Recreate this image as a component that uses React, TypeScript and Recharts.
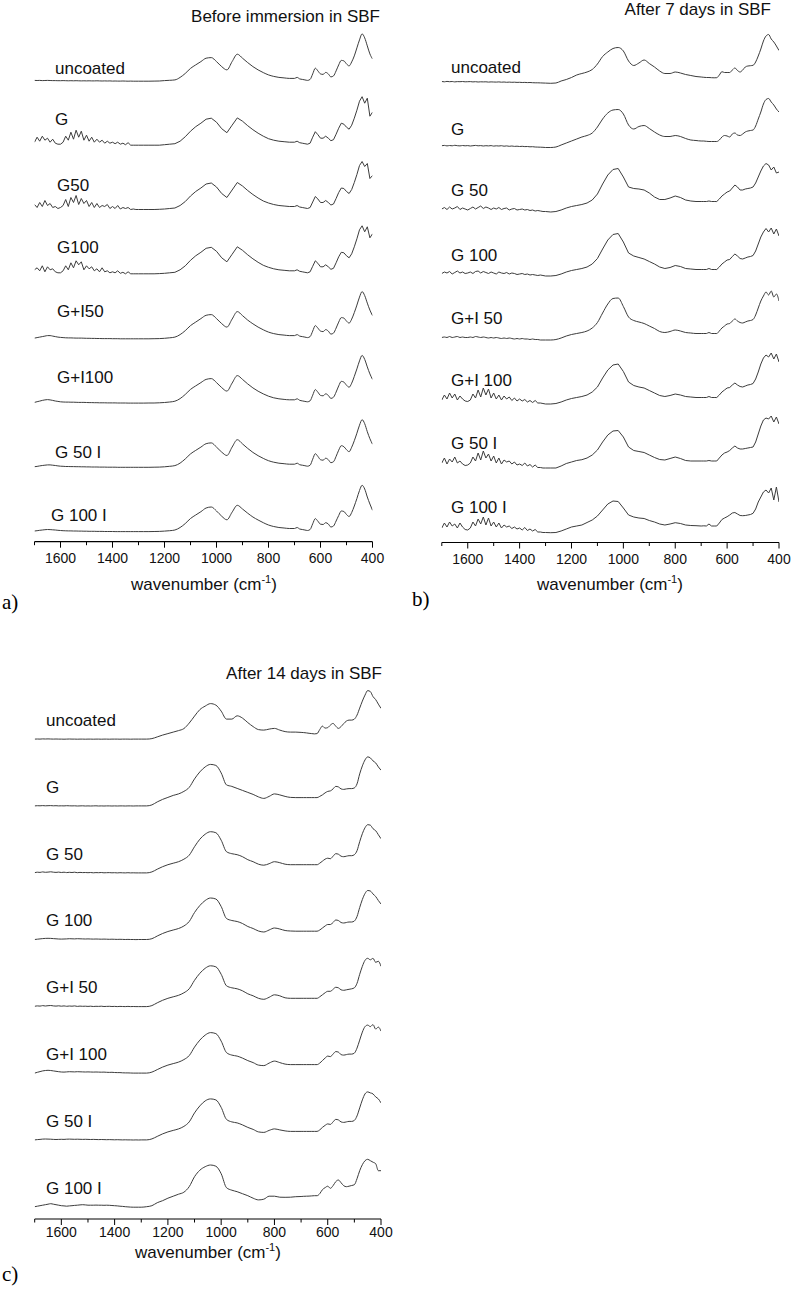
import React from 'react';
import { LineChart, Line, XAxis, YAxis } from 'recharts';

// wavenumber grid (cm-1): fine steps where the spectra are noisy or sharp
const WAVENUMBERS = [
  1700, 1690, 1680, 1670, 1660, 1650, 1640, 1630, 1620, 1610, 1600, 1590, 1580, 1570, 1560, 1550, 1540, 1530, 1520, 1510,
  1500, 1490, 1480, 1470, 1460, 1450, 1440, 1430, 1420, 1410, 1400, 1390, 1380, 1370, 1360, 1350, 1340, 1330, 1320, 1310, 1300,
  1280, 1260, 1240, 1220, 1200, 1180, 1160, 1140, 1120, 1100, 1080, 1060, 1040, 1020, 1000, 980, 960, 940, 920, 900,
  880, 860, 840, 820, 800, 780, 760, 740, 720,
  700, 690, 680, 670, 660, 650, 640, 630, 620, 610, 600, 590, 580, 570, 560, 550, 540, 530, 520, 510,
  500, 490, 480, 470, 460, 450, 440, 430, 420, 410, 400,
];
const TICKS = [1700, 1600, 1500, 1400, 1300, 1200, 1100, 1000, 900, 800, 700, 600, 500, 400];

const SAMPLES_A = ['uncoated', 'G', 'G50', 'G100', 'G+I50', 'G+I100', 'G 50 I', 'G 100 I'];
const SAMPLES_BC = ['uncoated', 'G', 'G 50', 'G 100', 'G+I 50', 'G+I 100', 'G 50 I', 'G 100 I'];

// absorbance (a.u.) - before immersion
const A_UNCOATED = [
  0.5, 0.4, 0.5, 0.3, 0.4, 0.5, 0.4, 0.3, 0.3, 0.2, 0.2, 0.3, 0.2, 0.1, 0.2, 0.1, 0.2, 0.1, 0, 0.1, 0, 0.1, 0, 0, 0.1, 0, -0.1, 0, -0.1, 0, -0.2, -0.1, -0.2, -0.2, -0.1, -0.2, -0.3, -0.2, -0.3, -0.3, -0.3,
  -0.3, -0.3, -0.2, -0.1, 0.3, 0.6, 1, 3.5, 7.5, 12.5, 16, 19.3, 22.7, 23.3, 19.3, 14.3, 11, 19.3, 26.7, 22.7, 18.3, 14.3, 11, 8.3, 6, 4.5, 3.5, 3, 2.5,
  2.5, 3.5, 2, 1.5, 1, 0.5, 1.5, 7, 12.7, 10, 7, 6.5, 8.5, 7, 4, 5, 10, 16, 20.5, 20, 17, 15, 19, 25, 33, 41, 47, 43, 35, 27, 22,
];
const A_G = [
  3, 8, 4, 9, 5, 7, 3, 6, 2, 1, 1, 3, 9, 5, 13, 6, 15, 8, 14, 5, 10, 4, 8, 3, 6, 3, 5, 2, 4, 2, 3, 1.5, 3, 1, 2, 0.5, 2.5, 0, 0, 0, 0,
  0, 0, 0, 0, 0.5, 1, 1.5, 4, 8.5, 14, 18.5, 22, 26, 27, 23, 16.5, 12.5, 20, 27.3, 24, 19.5, 15.5, 12, 9, 6.5, 5, 4, 3.5, 3,
  3, 4, 2.5, 2, 1.5, 1, 2, 8, 13.5, 10.5, 7, 7, 9, 7, 4.5, 5.5, 11, 17, 22, 21, 18, 16, 20, 27, 35, 44, 48.5, 42, 47, 29, 33,
];
const A_G50 = [
  5, 2, 7, 3, 9, 4, 6, 2, 3, 1, 2, 4, 10, 3, 12, 7, 14, 5, 11, 6, 9, 3, 7, 2, 6, 2, 4, 3, 5, 1, 3, 1, 4, 0.5, 2, 1, 2, 0, 0.5, 0, 0,
  0, 0, 0, 0.2, 0.5, 1, 1.5, 4, 8, 13.5, 18, 21.5, 25.5, 26.5, 22.5, 16, 12, 19.5, 27, 23.5, 19, 15, 11.5, 8.5, 6.5, 5, 4, 3.5, 3,
  3, 4, 2.5, 2, 1.5, 1, 2, 7.5, 13, 10.5, 7, 7, 9, 7, 4.5, 5.5, 11, 17, 21.5, 21, 18, 16, 20, 27, 35, 44, 48, 43, 46, 31, 34,
];
const A_G100 = [
  4, 6, 3, 8, 2, 7, 4, 5, 2, 1, 1, 3, 8, 4, 11, 6, 13, 9, 12, 4, 8, 5, 7, 3, 5, 2, 6, 2, 3, 1, 2, 1, 3, 0.5, 1.5, 0, 2, 0, 0, 0, 0,
  0, 0, 0, 0.2, 0.5, 1, 1.5, 4, 8, 13.5, 18, 21.5, 25.5, 26.5, 22.5, 16, 12, 19.5, 27, 23.5, 19, 15, 11.5, 8.5, 6.5, 5, 4, 3.5, 3,
  3, 4, 2.5, 2, 1.5, 1, 2, 7.5, 13, 10.5, 7, 7, 9, 7, 4.5, 5.5, 11, 17, 21.5, 21, 18, 16, 20, 27, 35, 44, 48, 42, 47, 36, 40,
];
const A_GI50 = [
  0, 0.5, 1, 1.5, 2, 2.5, 2.5, 2, 1.5, 1, 0.7, 0.5, 0.3, 0.2, 0.2, 0.1, 0, 0, 0, -0.1, -0.2, -0.2, -0.3, -0.3, -0.4, -0.4, -0.5, -0.5, -0.5, -0.5, -0.6, -0.6, -0.6, -0.7, -0.7, -0.7, -0.7, -0.7, -0.7, -0.7, -0.7,
  -0.7, -0.7, -0.6, -0.5, -0.2, 0.3, 1, 3.5, 7.5, 12.5, 16, 19.5, 22.8, 23.5, 19.5, 14.5, 11, 19, 26.5, 22.5, 18, 14.3, 11, 8.3, 6, 4.5, 3.5, 3, 2.5,
  2.5, 3.5, 2, 1.5, 1, 0.5, 1.5, 7, 12.5, 10, 7, 6.5, 8.5, 7, 4, 5, 10, 16, 20.5, 20, 17, 15, 19, 25.5, 33, 41, 46.5, 42.5, 35, 28, 22.5,
];
const A_GI100 = [
  0, 0.7, 1.3, 2, 2.5, 2.8, 2.5, 2, 1.4, 1, 0.6, 0.4, 0.3, 0.3, 0.2, 0.2, 0.1, 0, 0, 0, -0.1, -0.2, -0.2, -0.3, -0.3, -0.4, -0.4, -0.4, -0.5, -0.5, -0.5, -0.5, -0.6, -0.6, -0.6, -0.6, -0.7, -0.7, -0.7, -0.7, -0.7,
  -0.7, -0.6, -0.6, -0.4, -0.1, 0.4, 1.2, 3.8, 8, 13, 16.5, 19.8, 23, 23.8, 19.8, 14.8, 11.3, 19.3, 26.8, 23, 18.5, 14.5, 11.2, 8.5, 6.2, 4.6, 3.6, 3, 2.6,
  2.6, 3.6, 2.1, 1.5, 1, 0.6, 1.6, 7.2, 12.8, 10.2, 7, 6.6, 8.6, 7, 4, 5.2, 10.3, 16.5, 21, 20.3, 17.2, 15.2, 19.2, 26, 33.5, 41.5, 47, 43, 35.5, 28.5, 23,
];
const A_G50I = [
  0, 0.3, 0.8, 1.2, 1.5, 1.8, 1.8, 1.5, 1.2, 0.8, 0.5, 0.4, 0.2, 0.2, 0.1, 0.1, 0, 0, -0.1, -0.1, -0.2, -0.2, -0.3, -0.3, -0.3, -0.4, -0.4, -0.4, -0.5, -0.5, -0.5, -0.5, -0.6, -0.6, -0.6, -0.6, -0.6, -0.6, -0.6, -0.6, -0.6,
  -0.6, -0.6, -0.5, -0.4, -0.1, 0.4, 1.1, 3.6, 7.8, 12.8, 16.3, 19.6, 23, 23.8, 19.6, 14.6, 11.2, 19.6, 27, 22.8, 18.3, 14.3, 11, 8.3, 6, 4.5, 3.5, 3, 2.5,
  2.5, 3.5, 2, 1.5, 1, 0.5, 1.5, 7.5, 13, 10.3, 7, 6.5, 8.5, 7, 4, 5, 10.3, 16.5, 21, 20, 17, 15, 19.5, 26, 33.5, 41.5, 47, 43, 35, 28, 22.5,
];
const A_G100I = [
  0, 0.3, 0.7, 1, 1.3, 1.5, 1.4, 1.2, 1, 0.7, 0.5, 0.3, 0.2, 0.1, 0.1, 0, 0, -0.1, -0.1, -0.2, -0.2, -0.3, -0.3, -0.3, -0.4, -0.4, -0.4, -0.5, -0.5, -0.5, -0.5, -0.6, -0.6, -0.6, -0.6, -0.6, -0.6, -0.6, -0.6, -0.6, -0.6,
  -0.6, -0.6, -0.5, -0.4, -0.1, 0.3, 1, 3.5, 7.5, 12.5, 16, 19.3, 23, 24, 20, 14.8, 11.2, 18.8, 25.7, 22, 17.8, 14, 11, 8.3, 6, 4.5, 3.5, 3, 2.5,
  2.5, 3.5, 2, 1.5, 1, 0.5, 1.5, 7.2, 12.4, 9.8, 6.8, 6.5, 8.3, 7, 4, 5, 10, 15.5, 20, 19.5, 16.5, 14.5, 18.5, 25, 32.5, 40.5, 45.7, 42, 34, 27, 20.7,
];

// after 7 days in SBF
const B_UNCOATED = [
  0.5, 0.2, 0.6, 0.3, 0.5, 0.1, 0.4, 0.3, 0.5, 0.2, 0.3, 0.4, 0.1, 0.3, 0, 0.2, 0.1, 0.2, -0.1, 0.1, 0, -0.1, 0.1, -0.2, 0, -0.3, -0.1, -0.3, -0.2, -0.4, -0.3, -0.5, -0.4, -0.6, -0.5, -0.7, -0.8, -0.8, -0.9, -1, -1.1,
  -1.3, -1, 1, 2.5, 4.5, 7, 8.5, 10, 12.5, 18, 25.5, 30, 33.5, 34.5, 31, 21, 16.5, 19, 22, 18.5, 15, 11, 8.5, 8.5, 10, 9, 7.5, 6.5, 5.5,
  5, 4.7, 4.5, 4.5, 4.3, 4.2, 4.3, 7, 10.3, 9.5, 9.5, 9.5, 12, 14, 11.5, 10, 12, 15, 16, 16.3, 16.7, 20, 26, 33, 41, 46, 47.5, 43, 40, 36, 31.5,
];
const B_G = [
  0.3, 0.6, 0.1, 0.5, 0.2, 0.7, 0.3, 0.1, 0.5, 0.2, 0.4, 0, 0.3, 0.6, 0.2, 0.4, 0, 0.3, 0.1, 0.4, -0.1, 0.2, 0, 0.3, -0.2, 0.1, -0.3, 0, -0.4, -0.2, -0.5, -0.3, -0.6, -0.5, -0.8, -0.7, -1, -1.1, -1.2, -1.3, -1.5,
  -1.5, -1, 1, 3, 5, 7, 9, 10.5, 13, 19, 27, 33, 36, 36.5, 32, 21, 17, 19.5, 20.5, 17.5, 14, 11, 9.5, 9.5, 10.5, 9.5, 7.5, 6, 5.5,
  5, 5, 4.7, 4.5, 4.5, 4.5, 4.5, 6, 9, 10.5, 10, 9, 12, 13, 11, 10.5, 12, 14, 15, 15.5, 16, 20, 27, 34, 42, 46.5, 47.5, 44, 41, 37, 34,
];
const B_G50 = [
  1, 2.5, 0.5, 3, 1, 2, 3.5, 0.5, 2, 1, 0, 1.5, 3, 1, 2.5, 4, 1.5, 3, 2, 0.5, 2, 1, 2.5, 0.5, 1.5, 2, 0, 1, 1.5, 0, 0.5, 1, 0, 0.5, -0.5, 0, -1, -0.5, -1, -1.5, -1.5,
  -2, -1.5, 0, 2, 3.5, 4.5, 5.5, 7, 10, 16, 26, 35, 40.5, 41.5, 33, 23, 21.5, 21, 20, 17, 13, 10.5, 10.5, 12, 14, 12.5, 10, 9, 8.5,
  8.5, 8.5, 8.5, 9, 8.5, 8.5, 8.5, 11, 14, 16, 18, 19, 22, 25, 23, 20, 20, 21, 21.5, 22, 23, 27, 33, 39, 44, 46.5, 45, 40, 43, 37, 38,
];
const B_G100 = [
  0.5, 2, 1, 2.5, 0, 1.5, 3, 1, 2, 0.5, 1, 2, 0.5, 2.5, 3, 1, 2.5, 1.5, 0.5, 2, 1, 0, 2, 1, 0.5, 1.5, 0, 1, 0.5, -0.5, 0, 0.5, -0.5, 0, -1, -0.5, -1, -1.5, -1, -1.5, -2,
  -2, -1.5, 0, 2, 3.5, 4.5, 5.5, 7, 10, 15.5, 25, 34, 39.5, 40.5, 32, 21, 18, 16.5, 15, 12.5, 10, 7, 5.5, 6.5, 8.5, 7.5, 5.5, 5, 4.5,
  4.5, 4.5, 4.5, 5.5, 4.5, 4.5, 4.5, 7, 10, 12, 14, 14.5, 17.5, 20, 18, 15.5, 15, 16, 17, 17.5, 18.5, 23, 30, 37, 42, 45.5, 42, 46, 40, 45, 38,
];
const B_GI50 = [
  0.5, 1, 0.5, 1.5, 0.5, 1, 1.5, 0.5, 1, 0.5, 0.5, 1, 0.5, 1.5, 1, 0.5, 1, 0.5, 0, 0.5, 0, 0.5, 0, -0.5, 0, -0.5, 0, -0.5, -1, -0.5, -1, -0.5, -1, -1, -1.5, -1, -1.5, -1.5, -2, -2, -2,
  -2, -1.5, 0, 2, 3.5, 4.5, 5.5, 7, 10, 15.5, 25, 34, 39.5, 40, 31.5, 21, 17.5, 16, 14.5, 12, 9.5, 6.5, 5.5, 6.5, 8, 7, 5.5, 5, 4.5,
  4.5, 4.5, 4.5, 5.5, 4.5, 4.5, 4.5, 7, 10, 12, 14, 14.5, 17, 19, 17, 15.5, 15, 16, 17, 17.5, 18.5, 23, 30, 37, 42, 46, 43, 47, 41, 44, 37,
];
const B_GI100 = [
  2, 7, 3, 9, 4, 8, 2, 6, 3, 1, 0.5, 2, 8, 4, 12, 5, 14, 7, 13, 4, 9, 3, 7, 2, 6, 3, 5, 1.5, 4, 1, 3, 1, 2.5, 0, 1.5, -0.5, 1.5, -1, -1, -1.5, -2,
  -2, -1.5, 0, 2, 3.5, 4.5, 5.5, 7, 10, 15, 24, 32, 37, 38, 30.5, 20, 16.5, 15, 14, 11.5, 9, 6.5, 5.5, 6.5, 8, 7, 5.5, 5, 4.5,
  4.5, 4.5, 4.5, 5.5, 4.5, 4.5, 4.5, 7, 10, 12, 14, 14.5, 17, 19, 17, 15.5, 15, 16, 17, 17.5, 18.5, 23, 30, 38, 44, 47, 45, 49, 43, 48, 40,
];
const B_G50I = [
  3, 8, 2, 7, 4, 9, 3, 5, 2, 0.5, 1, 3, 9, 5, 13, 6, 15, 8, 12, 5, 10, 3, 8, 2, 6, 4, 5, 2, 4, 1, 2, 0.5, 3, 0, 1.5, -1, 1, -1.5, -1.5, -2, -2,
  -2, -2, 0, 2.5, 4, 5.5, 6.3, 8, 11, 16, 24, 31, 35, 35.5, 29, 19, 15.5, 14.5, 13.5, 11, 8.5, 6.5, 6, 7.5, 9, 7.5, 5.5, 5, 5,
  5, 5, 5, 5.5, 5, 5, 5, 8, 11, 13, 14, 15.5, 18, 20, 18, 17, 17, 17.5, 18, 18.5, 19, 24, 32, 40, 46, 48, 47, 50, 44, 49, 42,
];
const B_G100I = [
  2, 7, 3, 8, 4, 6, 2, 7, 3, 0.5, 0, 2, 8, 4, 11, 6, 13, 5, 12, 4, 8, 3, 7, 2, 5, 3, 4, 1.5, 3, 1, 2, 0, 2.5, -0.5, 1, -1, 0.5, -2, -2, -2.5, -2.5,
  -2.7, -2.5, -1, 1, 3, 4, 5, 7.5, 10, 14, 20, 26, 29, 28.5, 22, 15, 13, 12, 11.5, 9.5, 8, 6, 5, 6, 7.3, 6.5, 5, 4.5, 4.3,
  4, 4.2, 4, 6, 4, 4, 4, 7, 10.5, 12, 13.3, 15, 17, 17.5, 16, 14.5, 14.3, 14.5, 15, 15.5, 16.7, 21, 28, 33, 38, 40, 37, 42, 30, 43, 28,
];

// after 14 days in SBF
const C_UNCOATED = [
  0, 0.1, 0, 0.2, 0.1, 0.2, 0.1, 0, 0.1, 0, 0, -0.1, 0, 0.1, 0, 0, -0.1, 0, 0, -0.1, 0, 0, -0.1, 0, 0, -0.1, 0, 0, -0.1, 0, 0, 0, -0.1, 0, 0, 0, -0.1, 0, 0, 0, 0,
  0, 0.5, 2.2, 4, 5.5, 7, 8.5, 10.5, 16, 23, 29.5, 33, 35.5, 34, 28, 20, 20, 23.3, 21, 16.5, 12.5, 9.5, 9, 10, 10.7, 9, 7.5, 7, 7,
  6.7, 6.5, 6.2, 5.8, 5.5, 5.2, 5.5, 9.5, 13, 11, 11.5, 14, 15.7, 13, 10.7, 12.5, 15.5, 18, 19, 19, 20, 24, 31, 38, 44, 48.5, 47.5, 42.5, 39.5, 35, 30.7,
];
const C_G = [
  0, 0.2, 0.1, 0.3, 0.1, 0.2, 0.3, 0.1, 0.2, 0, 0.1, 0, 0.2, 0.1, 0, 0.1, -0.1, 0, 0.1, -0.1, 0, -0.1, 0, 0.1, -0.1, 0, -0.1, 0, 0, -0.1, 0, -0.1, 0, 0, -0.1, 0, 0, -0.1, 0, 0, 0,
  0, 1, 4, 6.5, 8.5, 10.5, 12, 14.5, 18.5, 27, 34, 39, 41.5, 40.5, 33, 21, 19.5, 17.5, 15.5, 13.5, 11.5, 9, 7.5, 9.5, 12, 11, 9.5, 8.5, 8.3,
  8.3, 8.3, 8.3, 8.3, 8.3, 8.3, 8.3, 9.5, 11, 13, 14.5, 15, 17, 19.5, 19, 17, 16.5, 17, 17.3, 17.3, 18, 22, 32, 40, 46, 49, 48, 45, 43, 39, 35.7,
];
const C_G50 = [
  0, 0.5, 0.3, 0.8, 0.4, 0.6, 0.9, 0.5, 0.3, 0.6, 0.2, 0.5, 0.1, 0.4, 0.2, 0.5, 0, 0.3, 0.1, 0.2, 0, 0.2, -0.1, 0.1, 0, 0.2, -0.1, 0, 0.1, -0.1, 0, -0.2, 0, -0.1, -0.2, 0, -0.2, -0.1, -0.2, -0.2, -0.2,
  -0.2, 0.8, 3.5, 6, 8, 9.5, 11, 13.5, 17.5, 26, 33.5, 38.5, 41, 40, 32.5, 21, 19, 18, 16, 13, 11, 8.5, 7.5, 9, 11, 10, 8.5, 8, 8,
  8, 8, 8, 8, 8, 8, 8, 9.5, 11.5, 13.5, 14.5, 14, 16.5, 19, 18.5, 16.5, 16, 16.5, 17, 17, 18, 22, 31, 39, 45, 48, 47.5, 44, 42, 38, 34,
];
const C_G100 = [
  0, 0.3, 0.6, 0.9, 1.1, 1.2, 1.1, 0.9, 0.7, 0.5, 0.4, 0.5, 0.6, 0.8, 0.7, 0.6, 0.8, 0.7, 0.6, 0.5, 0.6, 0.5, 0.4, 0.5, 0.4, 0.3, 0.4, 0.3, 0.2, 0.3, 0.2, 0.1, 0.2, 0.1, 0, 0.1, 0, 0, -0.1, 0, 0,
  0, 0.8, 3.5, 6, 8, 9.5, 11, 13.5, 18, 27, 34, 39, 41.5, 40.5, 33, 21, 19, 18, 16, 13, 11, 8.5, 7.5, 9.5, 11.5, 10.5, 9, 8.5, 8.3,
  8.3, 8.3, 8.3, 8.3, 8.3, 8.3, 8.3, 9.5, 11.5, 13.5, 15, 15, 17, 19.5, 19, 17, 16.5, 17, 17.5, 17.5, 18.5, 23, 32, 40, 46, 49, 48.5, 45.5, 43, 39, 35.5,
];
const C_GI50 = [
  0, 0.4, 0.2, 0.7, 0.3, 0.6, 0.8, 0.4, 0.2, 0.5, 0.1, 0.4, 0, 0.3, 0.1, 0.4, -0.1, 0.2, 0, 0.1, -0.1, 0.1, -0.2, 0, -0.1, 0.1, -0.2, -0.1, 0, -0.2, -0.1, -0.3, -0.1, -0.2, -0.3, -0.1, -0.3, -0.2, -0.3, -0.3, -0.3,
  -0.3, 0.7, 3.5, 6, 8, 9.5, 11, 13.5, 17.5, 26, 33, 38, 40.5, 39.5, 32, 20.5, 18.5, 17.5, 15.5, 12.5, 10.5, 8, 7, 9, 11.5, 10.5, 8.5, 8, 8,
  8, 8, 8, 8, 8, 8, 8, 9.5, 11.5, 13.5, 15, 15, 17, 19, 18.5, 16.5, 16, 16.5, 17, 17.5, 18.5, 23, 32, 40, 46, 48, 46.5, 48, 44, 45, 40,
];
const C_GI100 = [
  0, 0.8, 1.5, 2.2, 2.6, 2.8, 2.6, 2.2, 1.8, 1.4, 1.1, 1, 1.2, 1.4, 1.3, 1.2, 1.4, 1.3, 1.2, 1.1, 1.2, 1.1, 1, 1.1, 1, 0.9, 1, 0.8, 0.7, 0.8, 0.6, 0.5, 0.5, 0.3, 0.2, 0.2, 0.1, 0, 0, 0, 0,
  0, 1, 3.5, 6, 8, 9.5, 11, 13.5, 17.5, 26, 33, 38, 40.5, 39.5, 32, 20.5, 18, 17, 15, 12.5, 10.5, 8, 7.5, 10, 12, 10.5, 9, 8.5, 8.5,
  8.5, 8.5, 8.5, 8.5, 8.5, 8.5, 8.5, 10, 12.5, 15, 17, 16.5, 19, 21.5, 21, 18.5, 18, 18.5, 19, 19, 20, 25, 33, 41, 46.5, 48, 46.5, 48.5, 44, 46, 42,
];
const C_G50I = [
  0, 0.3, 0.5, 0.8, 0.9, 0.8, 0.7, 0.5, 0.4, 0.5, 0.6, 0.5, 0.7, 0.8, 0.7, 0.6, 0.7, 0.6, 0.5, 0.6, 0.5, 0.4, 0.5, 0.4, 0.3, 0.4, 0.3, 0.2, 0.3, 0.2, 0.1, 0.2, 0.1, 0, 0.1, 0, 0, -0.1, 0, -0.1, 0,
  0, 1, 3.5, 6, 8, 9.5, 11, 13.5, 18, 27, 34, 39, 41, 40, 32.5, 20.5, 18, 17, 15, 12.5, 10.5, 8, 7.5, 9.5, 11, 10, 9, 8.5, 8.5,
  8.5, 8.5, 8.5, 8.5, 8.5, 8.5, 8.5, 10, 12.5, 14.5, 16, 15.5, 18, 20.5, 20, 18, 17.5, 18, 18.5, 18.5, 19.5, 24, 32, 40, 46, 48, 47, 46, 43, 41, 37,
];
const C_G100I = [
  0, 0.5, 1, 1.5, 2, 2.5, 3, 2.5, 2, 1.5, 1, 0.8, 0.5, 0.8, 1, 1.3, 1.5, 1.8, 2, 1.8, 1.5, 1.5, 1.5, 1.6, 1.5, 1.5, 1.4, 1.5, 1.4, 1.2, 1, 0.8, 0.5, 0.3, 0, -0.2, -0.4, -0.5, -0.5, -0.5, -0.5,
  0, 1, 4, 6, 8.5, 10.5, 12.5, 14.5, 20, 30, 36.5, 40, 41.7, 40.5, 33, 19, 16.5, 15, 13, 11, 8.5, 6.8, 7.5, 10.5, 10.5, 9.5, 9.4, 9.5, 10,
  10.2, 10.4, 10.5, 10.6, 10.8, 11, 11, 13, 17, 19, 20.5, 18.4, 21, 25, 26.7, 24, 21, 20, 20.5, 21.2, 22, 28, 36, 42, 46, 47.4, 46, 44.5, 43, 36, 36,
];

const SANS = '"Liberation Sans", Arial, Helvetica, sans-serif';
const SERIF = '"Liberation Serif", "Times New Roman", serif';
const LINE = '#3c3c3c';

// panel geometry (px): plot box, stacking of the traces, which traces are drawn with straight segments
const PANELS = [
  {
    key: 'a', left: 0, top: 0, width: 400, height: 600, axisY: 541.7, plotLeft: 34.5, plotRight: 372.5,
    base: 10.7, step: 64.3, tickDy: 21, jagged: [1, 2, 3],
    spectra: [A_UNCOATED, A_G, A_G50, A_G100, A_GI50, A_GI100, A_G50I, A_G100I],
  },
  {
    key: 'b', left: 400, top: 0, width: 392, height: 600, axisY: 542.5, plotLeft: 41.8, plotRight: 379,
    base: 12.5, step: 64, tickDy: 21, jagged: [2, 3, 5, 6, 7],
    spectra: [B_UNCOATED, B_G, B_G50, B_G100, B_GI50, B_GI100, B_G50I, B_G100I],
  },
  {
    key: 'c', left: 0, top: 640, width: 400, height: 620, axisY: 579, plotLeft: 34.7, plotRight: 381,
    base: 12.3, step: 66.8, tickDy: 18.3, jagged: [],
    spectra: [C_UNCOATED, C_G, C_G50, C_G100, C_GI50, C_GI100, C_G50I, C_G100I],
  },
];

const LABELS_A = { x: [55, 55, 57, 57, 57, 57, 55, 51], y: [74, 124.5, 191, 253, 317, 383, 457.5, 521] };
const LABELS_B = { x: [451, 451, 451, 451, 451, 451, 451, 451], y: [72.7, 135, 196, 261, 324, 386, 449, 513] };
const LABELS_C = { x: [46, 46, 46, 46, 46, 46, 46, 46], y: [725.7, 792.6, 859.5, 926.4, 993.3, 1060.2, 1127.1, 1194] };

function SpectraPanel({ cfg }: { cfg: any }) {
  const n = cfg.spectra.length;
  const rows = WAVENUMBERS.map((w, i) => {
    const row: Record<string, number> = { w };
    cfg.spectra.forEach((s: number[], k: number) => {
      row['s' + k] = s[i] + cfg.base + (n - 1 - k) * cfg.step;
    });
    return row;
  });

  const renderTick = (props: any) => {
    const { x, payload } = props;
    const v = payload.value;
    const major = v % 200 === 0;
    return (
      <g key={'t' + v}>
        <line x1={x} x2={x} y1={cfg.axisY} y2={cfg.axisY + (major ? 6 : 3.5)} stroke="#000" strokeWidth={1} />
        {major && (
          <text x={x} y={cfg.axisY + cfg.tickDy} textAnchor="middle" fontSize={14} fontFamily={SANS} fill="#111">
            {v}
          </text>
        )}
      </g>
    );
  };

  return (
    <div style={{ position: 'absolute', left: cfg.left, top: cfg.top }}>
      <LineChart
        width={cfg.width}
        height={cfg.height}
        data={rows}
        margin={{ top: 0, right: cfg.width - cfg.plotRight, bottom: cfg.height - cfg.axisY - 30, left: cfg.plotLeft }}
      >
        <XAxis
          dataKey="w"
          type="number"
          domain={[400, 1700]}
          reversed
          ticks={TICKS}
          interval={0}
          tick={renderTick}
          tickLine={false}
          tickSize={0}
          tickMargin={0}
          axisLine={{ stroke: '#000', strokeWidth: 1.2 }}
          height={30}
          allowDataOverflow
        />
        <YAxis hide type="number" domain={[0, cfg.axisY]} allowDataOverflow />
        {cfg.spectra.map((_: number[], k: number) => (
          <Line
            key={k}
            dataKey={'s' + k}
            type={cfg.jagged.includes(k) ? 'linear' : 'monotone'}
            dot={false}
            activeDot={false}
            stroke={LINE}
            strokeWidth={1}
            strokeLinejoin="round"
            isAnimationActive={false}
          />
        ))}
      </LineChart>
    </div>
  );
}

function SampleLabels({ names, pos }: { names: string[]; pos: { x: number[]; y: number[] } }) {
  return (
    <>
      {names.map((name, k) => (
        <text key={name + k} x={pos.x[k]} y={pos.y[k]} fontSize={17} fontFamily={SANS} fill="#111">
          {name}
        </text>
      ))}
    </>
  );
}

function AxisTitle({ x, y }: { x: number; y: number }) {
  return (
    <text x={x} y={y} textAnchor="middle" fontSize={17} fontFamily={SANS} fill="#111">
      wavenumber (cm
      <tspan fontSize={11} dy={-7}>-1</tspan>
      <tspan dy={7}>)</tspan>
    </text>
  );
}

export default function App() {
  return (
    <div style={{ position: 'absolute', left: 0, top: 0, width: 792, height: 1296, background: '#fff', overflow: 'hidden' }}>
      {PANELS.map((p) => (
        <SpectraPanel key={p.key} cfg={p} />
      ))}
      <svg width={792} height={1296} style={{ position: 'absolute', left: 0, top: 0, pointerEvents: 'none' }}>
        <text x={380} y={21.5} textAnchor="end" fontSize={17} fontFamily={SANS} fill="#111">Before immersion in SBF</text>
        <text x={771} y={15} textAnchor="end" fontSize={17} fontFamily={SANS} fill="#111">After 7 days in SBF</text>
        <text x={382} y={678.5} textAnchor="end" fontSize={17} fontFamily={SANS} fill="#111">After 14 days in SBF</text>

        <SampleLabels names={SAMPLES_A} pos={LABELS_A} />
        <SampleLabels names={SAMPLES_BC} pos={LABELS_B} />
        <SampleLabels names={SAMPLES_BC} pos={LABELS_C} />

        <AxisTitle x={204} y={590} />
        <AxisTitle x={610} y={590} />
        <AxisTitle x={208} y={1258} />

        <text x={2} y={609} fontSize={21} fontFamily={SERIF} fill="#000">a)</text>
        <text x={412} y={606} fontSize={21} fontFamily={SERIF} fill="#000">b)</text>
        <text x={2} y={1281} fontSize={21} fontFamily={SERIF} fill="#000">c)</text>
      </svg>
    </div>
  );
}
